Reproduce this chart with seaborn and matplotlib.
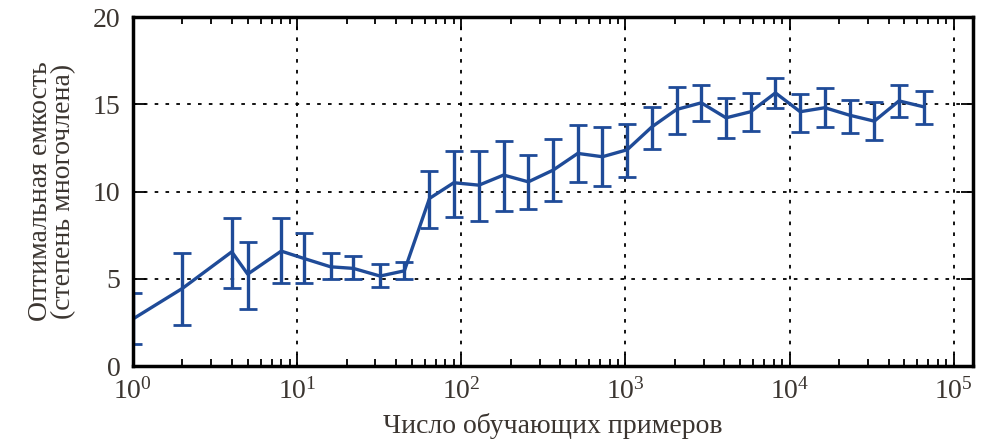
import matplotlib
matplotlib.use("Agg")
import matplotlib.pyplot as plt
import seaborn as sns

# training set sizes (floor of powers of sqrt(2))
n_examples = [1, 2, 4, 5, 8, 11, 16, 22, 32, 45, 64, 90, 128, 181, 256, 362,
              512, 724, 1024, 1448, 2048, 2896, 4096, 5792, 8192, 11585,
              16384, 23170, 32768, 46340, 65536]
# optimal capacity (polynomial degree): mean and error bar ends
capacity = [2.7, 4.45, 6.55, 5.27, 6.59, 6.17, 5.69, 5.60, 5.16, 5.46,
            9.61, 10.51, 10.37, 10.95, 10.56, 11.23, 12.19, 12.0, 12.4,
            13.71, 14.71, 15.09, 14.23, 14.58, 15.66, 14.58, 14.81, 14.38,
            14.04, 15.20, 14.86]
cap_low = [1.26, 2.35, 4.49, 3.30, 4.74, 4.78, 5.02, 4.99, 4.55, 4.99,
           7.89, 8.52, 8.33, 8.90, 8.98, 9.46, 10.53, 10.32, 10.85,
           12.47, 13.30, 14.04, 13.05, 13.48, 14.80, 13.43, 13.68, 13.37,
           12.95, 14.29, 13.85]
cap_high = [4.17, 6.51, 8.50, 7.12, 8.46, 7.60, 6.49, 6.30, 5.83, 5.94,
            11.17, 12.34, 12.34, 12.91, 12.09, 13.0, 13.8, 13.71, 13.87,
            14.86, 16.01, 16.14, 15.34, 15.63, 16.52, 15.57, 15.95, 15.24,
            15.11, 16.14, 15.76]

sns.set_style("ticks")
plt.rcParams['font.family'] = ['Liberation Serif', 'DejaVu Serif']
plt.rcParams['mathtext.fontset'] = 'stix'
text_color = '#3b3530'

blue = '#1f4b98'

fig, ax = plt.subplots(figsize=(9.92, 4.4), dpi=100)
fig.subplots_adjust(left=0.134, right=0.981, top=0.961, bottom=0.168)

sns.lineplot(x=n_examples, y=capacity, ax=ax, color=blue, linewidth=2.4)
yerr = [[m - lo for m, lo in zip(capacity, cap_low)],
        [hi - m for m, hi in zip(capacity, cap_high)]]
ax.errorbar(n_examples, capacity, yerr=yerr, fmt='none', ecolor=blue,
            elinewidth=2.4, capsize=6.5, capthick=2.0)

ax.set_xscale('log')
ax.set_xlim(1, 131072)
ax.set_ylim(0, 20)
ax.set_yticks([0, 5, 10, 15, 20])
ax.set_xticks([1, 10, 100, 1000, 10000, 100000])

ax.grid(True, which='major', color='black', linestyle=(0, (2, 4)), linewidth=1.3)
for side in ['top', 'right', 'bottom', 'left']:
    ax.spines[side].set_visible(True)
    ax.spines[side].set_linewidth(2.5)
    ax.spines[side].set_color('black')

ax.tick_params(which='both', direction='in', top=True, right=True,
               colors='black', labelcolor=text_color, labelsize=20)
ax.tick_params(which='major', length=9, width=1.3, pad=9)
ax.tick_params(which='minor', length=5, width=1.3)

ax.set_xlabel("Число обучающих примеров", fontsize=20, color=text_color, labelpad=6)
ax.set_ylabel("Оптимальная емкость\n(степень многочлена)", fontsize=20,
              color=text_color, labelpad=12, linespacing=0.9)

fig.savefig("out.png", dpi=100)
